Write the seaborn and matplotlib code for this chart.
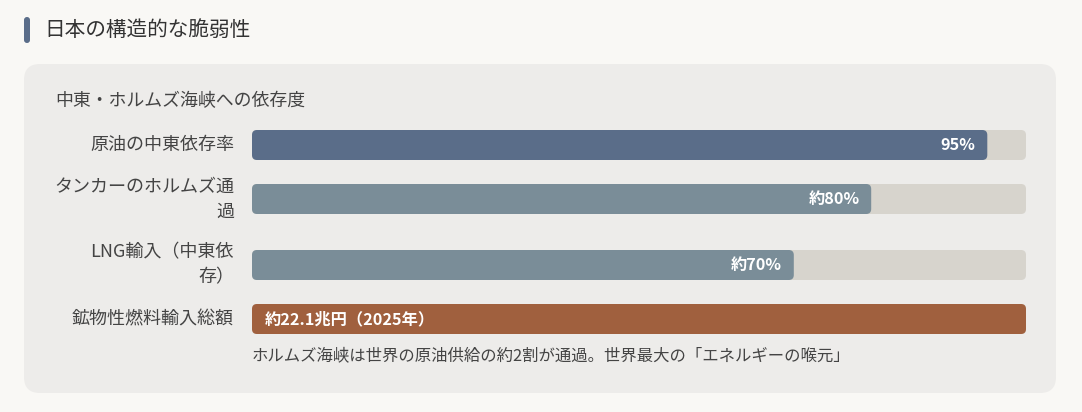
import matplotlib
matplotlib.use("Agg")
import matplotlib.pyplot as plt
from matplotlib.patches import FancyBboxPatch
import seaborn as sns

# data
labels = ['原油の中東依存率', 'タンカーのホルムズ通\n過', 'LNG輸入（中東依\n存）', '鉱物性燃料輸入総額']
values = [95, 80, 70, 100]
value_texts = ['95%', '約80%', '約70%', '約22.1兆円（2025年）']
bar_colors = ['#5a6d89', '#7a8d98', '#7a8d98', '#a0603e']
title = '日本の構造的な脆弱性'
subtitle = '中東・ホルムズ海峡への依存度'
note = 'ホルムズ海峡は世界の原油供給の約2割が通過。世界最大の「エネルギーの喉元」'

sns.set_theme(style='white')
plt.rcParams['font.family'] = ['Noto Sans CJK JP', 'DejaVu Sans']

W, H = 1082, 412
BG = '#f9f8f5'
PANEL = '#edecea'
TRACK = '#d7d4cd'
fig = plt.figure(figsize=(W / 100, H / 100), dpi=100, facecolor=BG)

# decor layer in pixel coordinates
deco = fig.add_axes([0, 0, 1, 1])
deco.set_xlim(0, W)
deco.set_ylim(H, 0)
deco.axis('off')
deco.add_patch(FancyBboxPatch((24, 64), 1032, 329, boxstyle='round,pad=0,rounding_size=16',
                              fc=PANEL, ec='none'))
deco.add_patch(FancyBboxPatch((24, 17), 6, 26, boxstyle='round,pad=0,rounding_size=3',
                              fc='#5a6d89', ec='none'))
deco.text(44, 30, title, fontsize=14.9, color='#333333', va='center', ha='left')
deco.text(55, 101, subtitle, fontsize=12.9, color='#444444', va='center', ha='left')
deco.text(252, 356, note, fontsize=11.8, color='#444444', va='center', ha='left')

# one row axes per bar (rows are not evenly spaced)
row_top = [130, 184, 250, 304]
bar_h = 30
x0, bar_w = 252, 774
rad = 5
for lab, val, txt, col, top in zip(labels, values, value_texts, bar_colors, row_top):
    ax = fig.add_axes([x0 / W, (H - top - bar_h) / H, bar_w / W, bar_h / H])
    sns.barplot(x=[100], y=[lab], color=TRACK, width=1, saturation=1, ax=ax)
    sns.barplot(x=[val], y=[lab], color=col, width=1, saturation=1, ax=ax)
    ax.set_xlim(0, 100)
    ax.set_ylim(0.5, -0.5)
    # rounded corners
    rx = rad * 100 / bar_w
    ry = rad / bar_h
    for p in list(ax.patches):
        rb = FancyBboxPatch((p.get_x(), p.get_y()), p.get_width(), p.get_height(),
                            boxstyle=f'round,pad=0,rounding_size={rx}',
                            mutation_aspect=ry / rx, fc=p.get_facecolor(), ec='none')
        p.remove()
        ax.add_patch(rb)
    if val >= 100 and len(txt) > 6:
        ax.text(1.6, 0, txt, color='white', fontsize=11.7, fontweight='bold',
                va='center', ha='left')
    else:
        ax.text(val - 1.5, 0, txt, color='white', fontsize=11.7, fontweight='bold',
                va='center', ha='right')
    # category label, right-aligned left of the bar
    ax.annotate(lab, xy=(0, 0.5), xycoords='axes fraction', xytext=(-18, 0),
                textcoords='offset pixels', ha='right', va='center',
                fontsize=13, color='#444444', linespacing=1.5)
    ax.set_xlabel('')
    ax.set_ylabel('')
    ax.set_xticks([])
    ax.set_yticks([])
    ax.set_facecolor('none')
    for s in ax.spines.values():
        s.set_visible(False)

fig.savefig('out.png', dpi=100, facecolor=BG)
